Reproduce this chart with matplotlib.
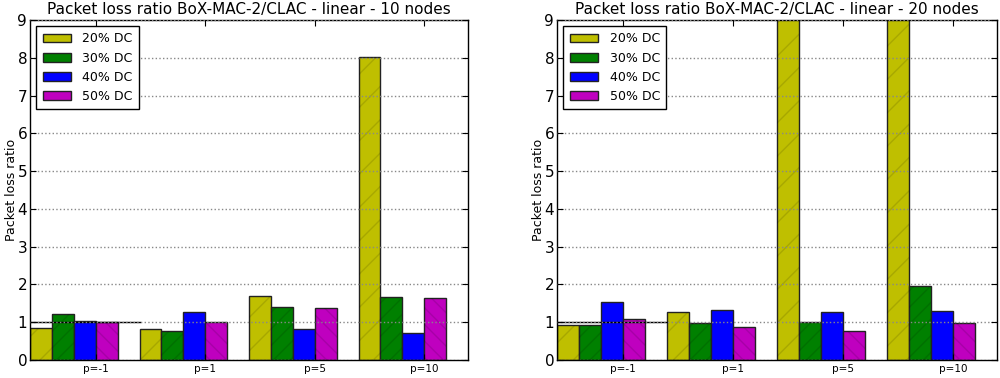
import numpy as np
import matplotlib
matplotlib.use('Agg')
import matplotlib.pyplot as plt

groups = ['p=-1', 'p=1', 'p=5', 'p=10']
labels = ['20% DC', '30% DC', '40% DC', '50% DC']
colors = ['y', 'g', 'b', 'm']
hatches = ['/', '//', '', '\\\\']

# left: 10 nodes
dc20_10 = [0.85, 0.81, 1.70, 8.02]
dc30_10 = [1.21, 0.78, 1.39, 1.67]
dc40_10 = [1.04, 1.27, 0.83, 0.71]
dc50_10 = [1.01, 1.01, 1.38, 1.63]

# right: 20 nodes (20% DC at p=5 and p=10 goes off the top)
dc20_20 = [0.92, 1.26, 11.5, 14.0]
dc30_20 = [0.92, 0.99, 1.00, 1.96]
dc40_20 = [1.54, 1.33, 1.26, 1.31]
dc50_20 = [1.09, 0.88, 0.76, 0.99]

WIDTH = 0.2

fig = plt.figure(figsize=(10, 3.78), dpi=100)
ax1 = fig.add_axes([0.030, 0.0476, 0.438, 0.8995])
ax2 = fig.add_axes([0.557, 0.0476, 0.440, 0.8995])

def draw(ax, series, title, lab_x):
	ind = np.arange(len(groups))
	for i, vals in enumerate(series):
		ax.bar(ind + i*WIDTH, vals, WIDTH, align='edge', color=colors[i],
			edgecolor='#222222', linewidth=1.0, label=labels[i])
		if hatches[i]:
			ax.bar(ind + i*WIDTH, vals, WIDTH, align='edge', fill=False,
				edgecolor=(0, 0, 0, 0.12), linewidth=0, hatch=hatches[i])
	ax.plot([0, 1], [1, 1], color='k', linewidth=1.0)
	ax.set_xlim(0, len(groups))
	ax.set_ylim(0, 9)
	ax.set_xticks(ind + 3*WIDTH)
	ax.set_xticklabels(groups, fontsize=7.5)
	ax.set_yticks(range(10))
	ax.tick_params(axis='y', labelsize=11, direction='in', right=True, length=4, pad=2)
	ax.tick_params(axis='x', direction='in', top=True, length=4, pad=3)
	ax.yaxis.grid(True, linestyle=':', color='#888888', linewidth=1.0)
	ax.set_axisbelow(False)
	ax.set_ylabel('Packet loss ratio', fontsize=9)
	ax.yaxis.set_label_coords(lab_x, 0.5)
	ax.set_title(title, fontsize=11, pad=4)
	leg = ax.legend(loc='upper left', fontsize=9, fancybox=False,
		edgecolor='k', framealpha=1, handlelength=2.3, handleheight=0.7,
		borderpad=0.5, labelspacing=0.5, handletextpad=0.9)
	leg.get_frame().set_linewidth(1.0)
	for s in ax.spines.values():
		s.set_linewidth(1.0)

draw(ax1, [dc20_10, dc30_10, dc40_10, dc50_10],
	'Packet loss ratio BoX-MAC-2/CLAC - linear - 10 nodes', -0.028)
draw(ax2, [dc20_20, dc30_20, dc40_20, dc50_20],
	'Packet loss ratio BoX-MAC-2/CLAC - linear - 20 nodes', -0.027)

fig.savefig('out.png', dpi=100)
